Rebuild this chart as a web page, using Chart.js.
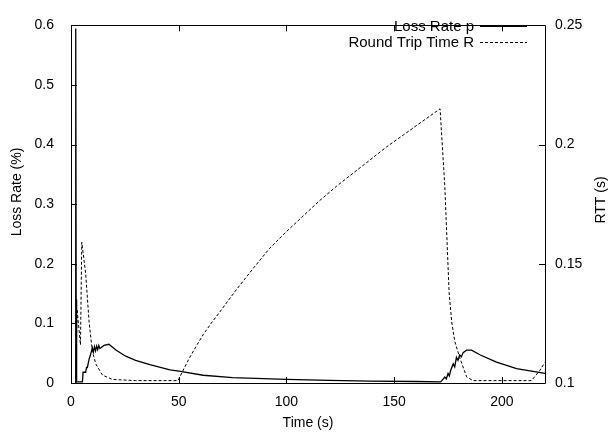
<!DOCTYPE html>
<html>
<head>
<meta charset="utf-8">
<script src="https://cdn.jsdelivr.net/npm/chart.js@4/dist/chart.umd.min.js"></script>
<style>
  html, body { margin: 0; padding: 0; background: #fff; }
  #wrap { width: 616px; height: 434px; }
</style>
</head>
<body>
<div id="wrap"><canvas id="chart" width="616" height="434"></canvas></div>
<script>
// Loss rate p (left axis, %)
const lossTime = [1.9, 2.2, 2.4, 2.6, 5.3, 5.6, 6.8, 7.2, 7.6, 8.4, 9.1, 9.9, 10.4, 10.9, 11.4, 11.9, 12.4, 12.9, 13.4, 15.3, 17.6, 21, 25.4, 30, 36.6, 45.9, 50, 61.4, 75, 100, 120, 138.7, 160, 171.6, 173.5, 174.2, 175, 175.6, 176.2, 177.4, 178.1, 178.9, 179.6, 180.4, 181.2, 182, 183.6, 185.9, 190, 197.5, 206.8, 220];
const lossRate = [0.0, 0.595, 0.14, 0.002, 0.002, 0.018, 0.018, 0.026, 0.026, 0.04, 0.048, 0.059, 0.052, 0.061, 0.054, 0.062, 0.056, 0.063, 0.058, 0.063, 0.065, 0.055, 0.045, 0.038, 0.031, 0.022, 0.02, 0.013, 0.009, 0.006, 0.0045, 0.0033, 0.0025, 0.002, 0.01, 0.007, 0.016, 0.012, 0.021, 0.032, 0.027, 0.043, 0.038, 0.047, 0.044, 0.051, 0.055, 0.055, 0.047, 0.035, 0.024, 0.016];

// Round trip time R (right axis, s)
const rttTime = [2.2, 2.8, 4.4, 5.0, 6.8, 8.4, 9.9, 11.5, 14.6, 19.2, 30, 49.7, 52.4, 55.1, 58.2, 61.3, 65.1, 69.0, 72.9, 76.8, 84.5, 92.2, 100.0, 107.7, 115.4, 123.2, 130.9, 138.7, 146.4, 154.2, 162.7, 171.3, 173.5, 175.5, 176.7, 178.1, 180.4, 183.6, 186.6, 200, 213.7, 217.6, 220];
const rttValue = [0.1, 0.131, 0.116, 0.159, 0.146, 0.1256, 0.1134, 0.108, 0.1033, 0.1015, 0.101, 0.101, 0.106, 0.1107, 0.1156, 0.1202, 0.1251, 0.1297, 0.1345, 0.1392, 0.148, 0.1565, 0.1635, 0.17, 0.1765, 0.1825, 0.188, 0.1935, 0.199, 0.204, 0.2095, 0.215, 0.1825, 0.1378, 0.1256, 0.1175, 0.1107, 0.1026, 0.101, 0.101, 0.101, 0.1053, 0.1087];

const xTicks = [0, 50, 100, 150, 200];
const lossTicks = [0, 0.1, 0.2, 0.3, 0.4, 0.5, 0.6];
const rttTicks = [0.1, 0.15, 0.2, 0.25];

const FAMILY = '"Liberation Sans", Arial, sans-serif';
const FONT = { family: FAMILY, size: 14 };

const toPoints = (xs, ys) => xs.map((x, i) => ({ x, y: ys[i] }));

function rotatedText(ctx, text, x, y) {
    ctx.save();
    ctx.translate(x, y);
    ctx.rotate(-Math.PI / 2);
    ctx.textAlign = 'center';
    ctx.textBaseline = 'middle';
    ctx.fillText(text, 0, 0);
    ctx.restore();
}

// gnuplot-style frame, inward tick marks, y titles and legend
const framePlugin = {
    id: 'frame',
    afterDraw(chart) {
        const { ctx, chartArea: a, scales } = chart;
        ctx.save();
        ctx.strokeStyle = '#000';
        ctx.lineWidth = 1;
        ctx.beginPath();
        ctx.rect(Math.round(a.left) + 0.5, Math.round(a.top) + 0.5, Math.round(a.right - a.left), Math.round(a.bottom - a.top));
        ctx.stroke();

        ctx.beginPath();
        xTicks.forEach(v => {
            const px = Math.round(scales.x.getPixelForValue(v)) + 0.5;
            ctx.moveTo(px, a.bottom); ctx.lineTo(px, a.bottom - 6);
            ctx.moveTo(px, a.top); ctx.lineTo(px, a.top + 6);
        });
        lossTicks.forEach(v => {
            const py = Math.round(scales.y.getPixelForValue(v)) + 0.5;
            ctx.moveTo(a.left, py); ctx.lineTo(a.left + 6, py);
        });
        rttTicks.forEach(v => {
            const py = Math.round(scales.y1.getPixelForValue(v)) + 0.5;
            ctx.moveTo(a.right, py); ctx.lineTo(a.right - 6, py);
        });
        ctx.stroke();

        ctx.fillStyle = '#000';
        ctx.font = `14px ${FAMILY}`;
        rotatedText(ctx, 'Loss Rate (%)', 17, 192);
        rotatedText(ctx, 'RTT (s)', 601, 200);

        // legend
        ctx.font = `15px ${FAMILY}`;
        ctx.textAlign = 'right';
        ctx.textBaseline = 'middle';
        chart.data.datasets.forEach((ds, i) => {
            const y = 26 + i * 16 + 0.5;
            ctx.fillText(ds.label, 474, y);
            ctx.beginPath();
            ctx.lineWidth = 1;
            ctx.setLineDash(ds.borderDash || []);
            ctx.moveTo(480, y); ctx.lineTo(527, y);
            ctx.stroke();
        });
        ctx.restore();
    }
};

new Chart(document.getElementById('chart'), {
    type: 'line',
    data: {
        datasets: [{
            label: 'Loss Rate p',
            data: toPoints(lossTime, lossRate),
            yAxisID: 'y',
            borderColor: '#000',
            borderWidth: 1.3,
            pointRadius: 0,
            tension: 0
        }, {
            label: 'Round Trip Time R',
            data: toPoints(rttTime, rttValue),
            yAxisID: 'y1',
            borderColor: '#000',
            borderWidth: 1,
            borderDash: [3, 2],
            pointRadius: 0,
            tension: 0
        }]
    },
    options: {
        responsive: false,
        animation: false,
        layout: { padding: { top: 14, left: 0, right: 0, bottom: 0 } },
        plugins: { legend: { display: false }, tooltip: { enabled: false } },
        scales: {
            x: {
                type: 'linear',
                min: 0, max: 220,
                afterBuildTicks: s => { s.ticks = xTicks.map(value => ({ value })); },
                afterFit: s => { s.height = 51; },
                grid: { display: false, drawTicks: false },
                border: { display: false },
                ticks: { color: '#000', font: FONT, padding: 11, maxRotation: 0 },
                title: { display: true, text: 'Time (s)', color: '#000', font: FONT, padding: { top: 0, bottom: 2 } }
            },
            y: {
                position: 'left',
                min: 0, max: 0.6,
                afterBuildTicks: s => { s.ticks = lossTicks.map(value => ({ value })); },
                afterFit: s => { s.width = 71; },
                grid: { display: false, drawTicks: false },
                border: { display: false },
                ticks: { color: '#000', font: FONT, padding: 17, callback: v => String(+v.toFixed(2)) }
            },
            y1: {
                position: 'right',
                min: 0.1, max: 0.25,
                afterBuildTicks: s => { s.ticks = rttTicks.map(value => ({ value })); },
                afterFit: s => { s.width = 71; },
                grid: { display: false, drawTicks: false },
                border: { display: false },
                ticks: { color: '#000', font: FONT, padding: 10, callback: v => String(+v.toFixed(2)) }
            }
        }
    },
    plugins: [framePlugin]
});
</script>
</body>
</html>
